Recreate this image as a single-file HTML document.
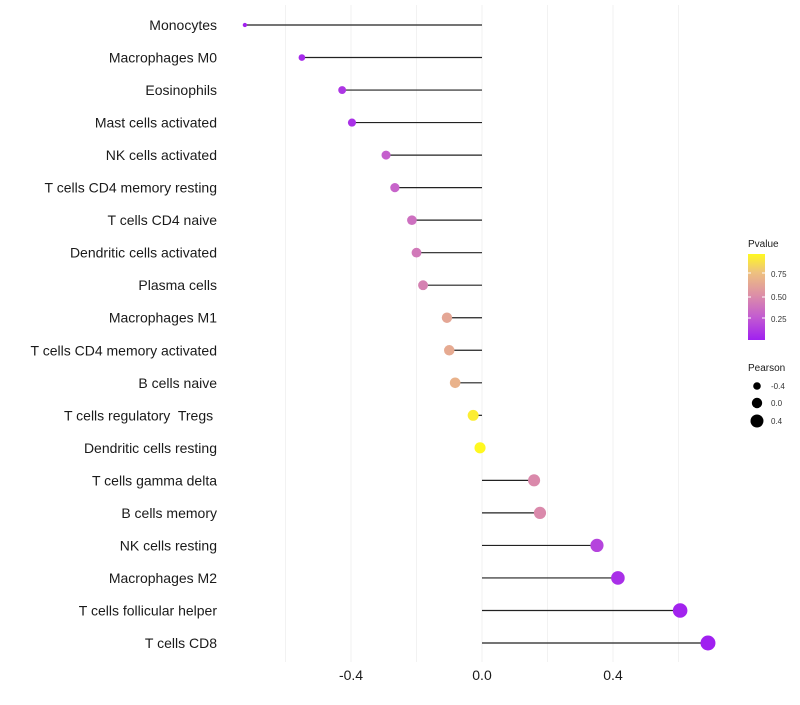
<!DOCTYPE html>
<html><head><meta charset="utf-8"><style>
body{margin:0;background:#fff;}
svg text{font-family:"Liberation Sans",Arial,sans-serif;white-space:pre;}
</style></head><body>
<svg id="chart" width="800" height="700" xmlns="http://www.w3.org/2000/svg" xml:space="preserve">
<defs>
<linearGradient id="pg" x1="0" y1="1" x2="0" y2="0">
<stop offset="0" stop-color="#A020F0"/>
<stop offset="0.27" stop-color="#C35CD0"/>
<stop offset="0.53" stop-color="#DD90A6"/>
<stop offset="0.79" stop-color="#EEC27E"/>
<stop offset="1" stop-color="#FFF820"/>
</linearGradient>
</defs>
<g id="grid"></g>
<g id="marks"></g>
<g id="ylabels"></g>
<g id="xlabels"></g>
<g>
<text x="748" y="247" font-size="10" fill="#1a1a1a">Pvalue</text>
<rect x="748" y="254" width="17" height="86" fill="url(#pg)"/>
<line x1="748" y1="273" x2="751" y2="273" stroke="#fff"/><line x1="762" y1="273" x2="765" y2="273" stroke="#fff"/>
<line x1="748" y1="297" x2="751" y2="297" stroke="#fff"/><line x1="762" y1="297" x2="765" y2="297" stroke="#fff"/>
<line x1="748" y1="318" x2="751" y2="318" stroke="#fff"/><line x1="762" y1="318" x2="765" y2="318" stroke="#fff"/>
<text x="771" y="277" font-size="8" fill="#333">0.75</text>
<text x="771" y="300" font-size="8" fill="#333">0.50</text>
<text x="771" y="322" font-size="8" fill="#333">0.25</text>
</g>
<g>
<text x="748" y="371" font-size="10" fill="#1a1a1a">Pearson</text>
<circle cx="757" cy="386" r="3.8" fill="#000"/>
<circle cx="757" cy="403" r="5.2" fill="#000"/>
<circle cx="757" cy="421" r="6.5" fill="#000"/>
<text x="771" y="389" font-size="8" fill="#333">-0.4</text>
<text x="771" y="406" font-size="8" fill="#333">0.0</text>
<text x="771" y="424" font-size="8" fill="#333">0.4</text>
</g>
</svg>
<script>
const categories=["Monocytes","Macrophages M0","Eosinophils","Mast cells activated","NK cells activated","T cells CD4 memory resting","T cells CD4 naive","Dendritic cells activated","Plasma cells","Macrophages M1","T cells CD4 memory activated","B cells naive","T cells regulatory  Tregs ","Dendritic cells resting","T cells gamma delta","B cells memory","NK cells resting","Macrophages M2","T cells follicular helper","T cells CD8"];
const pearson=[-0.724,-0.55,-0.427,-0.397,-0.293,-0.266,-0.214,-0.2,-0.18,-0.107,-0.1,-0.082,-0.027,-0.006,0.159,0.177,0.351,0.415,0.605,0.69];
const pvalues=[0.02,0.05,0.1,0.08,0.28,0.3,0.36,0.4,0.44,0.62,0.64,0.68,0.92,0.97,0.48,0.48,0.16,0.07,0.02,0.006];
const xTicks=[-0.4,0.0,0.4];
const xTickLabels=["-0.4","0.0","0.4"];
const minorTicks=[-0.6,-0.2,0.2,0.6];
const NS="http://www.w3.org/2000/svg";
const xs=v=>482+v*327.5;
const ys=i=>25+i*(618/19);
const rs=v=>Math.sqrt(Math.max(1,31+36.3*v));
const stops=[[0,[160,32,240]],[0.27,[195,92,208]],[0.53,[221,144,166]],[0.79,[238,194,126]],[1,[255,248,32]]];
function col(p){const t=Math.max(0,Math.min(1,(p-0.006)/(0.96-0.006)));
for(let k=1;k<stops.length;k++){if(t<=stops[k][0]){const a=stops[k-1],b=stops[k];const f=(t-a[0])/(b[0]-a[0]);
return "rgb("+a[1].map((c,j)=>Math.round(c+(b[1][j]-c)*f)).join(",")+")";}}return "rgb(255,248,32)";}
function mk(tag,attrs,parent){const e=document.createElementNS(NS,tag);for(const k in attrs)e.setAttribute(k,attrs[k]);parent.appendChild(e);return e;}
const grid=document.getElementById("grid"),marks=document.getElementById("marks"),yl=document.getElementById("ylabels"),xl=document.getElementById("xlabels");
minorTicks.concat(xTicks).forEach(v=>{const l=mk("line",{x1:xs(v),x2:xs(v),y1:5,y2:662,stroke:"#f2f2f2","stroke-width":1},grid);

});
xTicks.forEach((v,i)=>{const t=mk("text",{x:xs(v),y:680,"font-size":14,fill:"#1a1a1a","text-anchor":"middle"},xl);t.textContent=xTickLabels[i];

});
categories.forEach((c,i)=>{const y=ys(i);
const l=mk("line",{x1:xs(0),x2:xs(pearson[i]),y1:y,y2:y,stroke:"#222","stroke-width":1.2},marks);


const d=mk("circle",{cx:xs(pearson[i]),cy:y,r:rs(pearson[i]),fill:col(pvalues[i])},marks);


const t=mk("text",{x:217,y:y+5,"font-size":14,fill:"#1a1a1a","text-anchor":"end"},yl);t.textContent=c;

});
</script>
</body></html>
